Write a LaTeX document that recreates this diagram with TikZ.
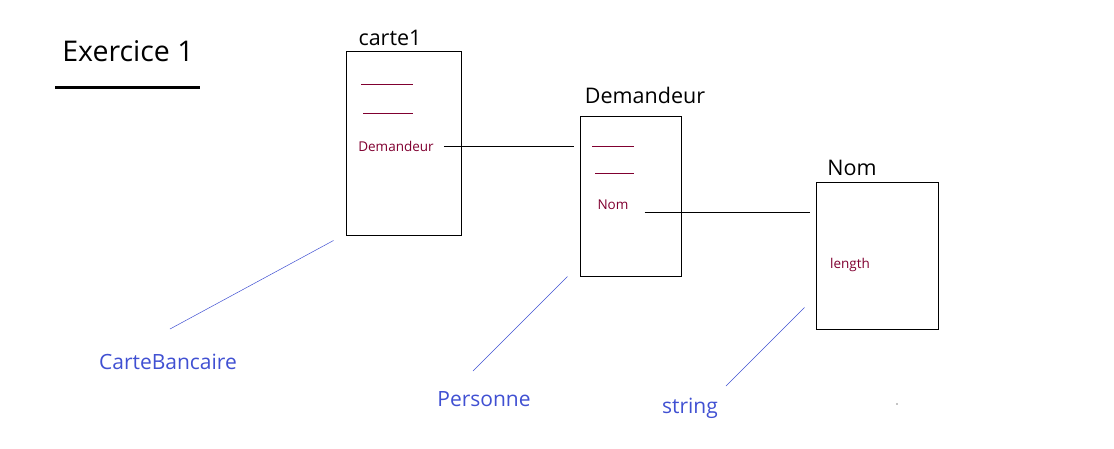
\documentclass[tikz,border=0pt]{standalone}
\usepackage{fontspec}
\setmainfont{Open Sans}
\usepackage{tikz}
\usetikzlibrary{positioning,calc}
\definecolor{attrred}{RGB}{128,0,48}
\definecolor{typeblue}{RGB}{64,80,210}
\tikzset{
  objbox/.style={draw, line width=1pt, minimum width=#1},
  titre/.style={font=\fontsize{21.5}{24}\selectfont, inner sep=0pt},
  attr/.style={text=attrred, font=\fontsize{13.5}{16}\selectfont, inner sep=0pt},
  typelabel/.style={text=typeblue, font=\fontsize{21}{24}\selectfont, inner sep=0pt},
  link/.style={line width=0.9pt},
  typelink/.style={draw=typeblue, line width=0.5pt},
  champ/.style={draw=attrred, line width=0.9pt},
}

\begin{document}
\begin{tikzpicture}[x=1pt, y=-1pt]
  \useasboundingbox (0,0) rectangle (1114,448);

  % Titre
  \node[font=\fontsize{28.5}{32}\selectfont, inner sep=0pt] (exo) at (128,51) {Exercice 1};
  \draw[line width=3pt] (55,87) -- (200,87);

  % Objets
  \node[objbox=115pt, minimum height=184pt] (carte) at (403.5,143) {};
  \node[objbox=101pt, minimum height=160pt] (dem) at (630.5,196) {};
  \node[objbox=122pt, minimum height=147pt] (nom) at (877,255.5) {};

  \node[titre] (tcarte) at (390,38) {carte1};
  \node[titre] (tdem) at (645,95) {Demandeur};
  \node[titre] (tnom) at (852,168) {Nom};

  % Champs
  \draw[champ] (361,84) -- (413,84);
  \draw[champ] (363,113) -- (413,113);
  \draw[champ] (592,146) -- (634,146);
  \draw[champ] (595,173) -- (634,173);

  \node[attr] (acarte) at (396,146) {Demandeur};
  \node[attr] (adem) at (613,205) {Nom};
  \node[attr] (anom) at (850,265) {length};

  \coordinate (dcarte) at ([xshift=10pt]acarte.east);
  \coordinate (dnom) at ([xshift=16pt,yshift=-7pt]adem.east);
  \draw[link] (dcarte) -- ([xshift=-6pt]dem.west |- dcarte);
  \draw[link] (dnom) -- ([xshift=-6pt]nom.west |- dnom);

  % Types
  \node[typelabel] (tycarte) at (168,362) {CarteBancaire};
  \node[typelabel] (tydem) at (484,399) {Personne};
  \node[typelabel] (tynom) at (690,408) {string};

  \coordinate (ecarte) at (170,329);
  \coordinate (edem) at (473,371);
  \coordinate (enom) at (726,386);
  \draw[typelink] ($(carte.south west)+(-12,5)$) -- (ecarte);
  \draw[typelink] ($(dem.south west)+(-12,0)$) -- (edem);
  \draw[typelink] ($(nom.south west)+(-11,-22)$) -- (enom);

  \fill (897,404) circle (0.7pt);
\end{tikzpicture}
\end{document}
